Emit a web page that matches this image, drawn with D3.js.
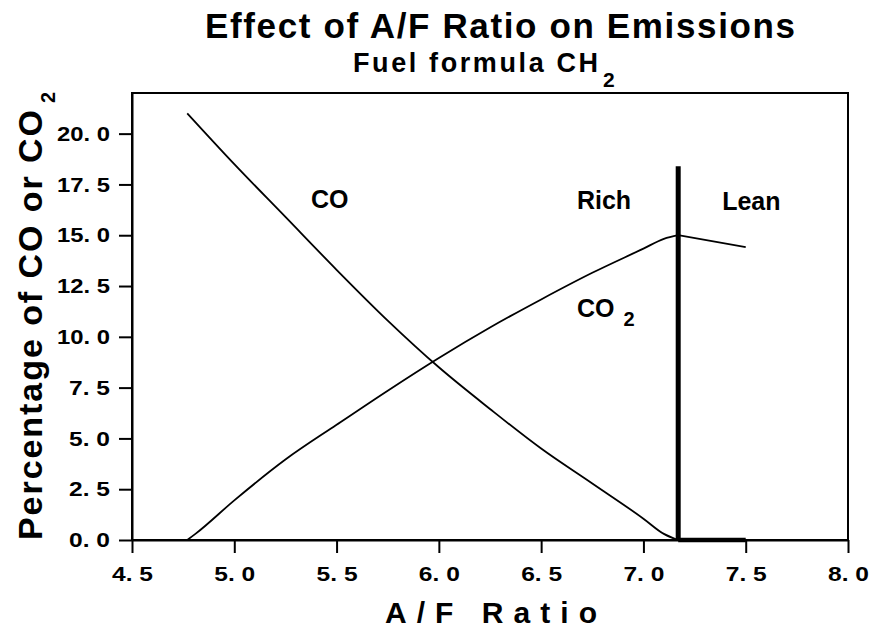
<!DOCTYPE html>
<html>
<head>
<meta charset="utf-8">
<script src="https://cdn.jsdelivr.net/npm/d3@7"></script>
<style>
  body { margin: 0; background: #fff; }
  svg { display: block; }
</style>
</head>
<body>
<svg id="chart" width="873" height="630"></svg>
<script>
// A/F ratio values
var afCO = [4.77, 5.0, 5.25, 5.5, 5.75, 6.0, 6.25, 6.5, 6.75, 7.0, 7.1, 7.17, 7.5];
var pctCO = [21.0, 18.5, 15.9, 13.3, 10.8, 8.5, 6.45, 4.5, 2.78, 1.05, 0.3, 0.0, 0.0];

var afCO2 = [4.77, 4.81, 5.0, 5.25, 5.5, 5.75, 6.0, 6.25, 6.5, 6.75, 7.0, 7.1, 7.17, 7.5];
var pctCO2 = [0.0, 0.3, 1.95, 3.96, 5.67, 7.35, 8.96, 10.46, 11.84, 13.15, 14.34, 14.82, 15.0, 14.42];

// stoichiometric divider
var stoichAF = 7.17;
var stoichTop = 18.4;

var xTicks = [4.5, 5.0, 5.5, 6.0, 6.5, 7.0, 7.5, 8.0];
var yTicks = [0, 2.5, 5, 7.5, 10, 12.5, 15, 17.5, 20];

// in-plot labels (data coords of baseline start)
var labels = [
  { text: "CO", x: 5.375, y: 16.36, sub: null },
  { text: "Rich", x: 6.675, y: 16.3, sub: null },
  { text: "Lean", x: 7.385, y: 16.25, sub: null },
  { text: "CO", x: 6.675, y: 10.97, sub: "2" }
];

var svg = d3.select('#chart');
svg.append('rect').attr('width', 873).attr('height', 630).attr('fill', '#fff');

var x = d3.scaleLinear().domain([4.5, 8.0]).range([132, 848]);
var y = d3.scaleLinear().domain([0, 22]).range([540, 93]);

// "20. 0" style labels, non-breaking space so it is kept
var fmt = function(d) { return d.toFixed(1).replace('.', '.\u00a0'); };
var textFont = "'Liberation Sans', Arial, sans-serif";

// frame
svg.append('rect')
  .attr('x', x(4.5)).attr('y', y(22))
  .attr('width', x(8.0) - x(4.5)).attr('height', y(0) - y(22))
  .attr('fill', 'none').attr('stroke', '#000').attr('stroke-width', 2);

var xAxis = svg.append('g')
  .attr('transform', 'translate(0,' + y(0) + ')')
  .call(d3.axisBottom(x).tickValues(xTicks).tickSize(13).tickSizeOuter(0).tickPadding(13).tickFormat(fmt));
var yAxis = svg.append('g')
  .attr('transform', 'translate(' + x(4.5) + ',0)')
  .call(d3.axisLeft(y).tickValues(yTicks).tickSize(13).tickSizeOuter(0).tickPadding(9).tickFormat(fmt));

[xAxis, yAxis].forEach(function(g) {
  g.attr('font-family', textFont).attr('font-size', 21).attr('font-weight', 'bold');
  g.select('.domain').attr('stroke', '#000').attr('stroke-width', 2);
  g.selectAll('.tick line').attr('stroke', '#000').attr('stroke-width', 2);
  g.selectAll('.tick text')
    .attr('fill', '#000')
    .attr('textLength', function(d) { return fmt(d).length === 5 ? 53 : 41; })
    .attr('lengthAdjust', 'spacingAndGlyphs');
});

// curves
var line = d3.line().x(function(d) { return x(d[0]); }).y(function(d) { return y(d[1]); });
var smooth = d3.line().curve(d3.curveMonotoneX).x(function(d) { return x(d[0]); }).y(function(d) { return y(d[1]); });
var coPts = d3.zip(afCO, pctCO);
var co2Pts = d3.zip(afCO2, pctCO2);

svg.append('path').datum(coPts.filter(function(d) { return d[0] <= stoichAF; })).attr('d', smooth)
  .attr('fill', 'none').attr('stroke', '#000').attr('stroke-width', 1.8);
svg.append('path').datum(coPts.filter(function(d) { return d[0] >= stoichAF; })).attr('d', line)
  .attr('fill', 'none').attr('stroke', '#000').attr('stroke-width', 4.5);
svg.append('path').datum(co2Pts.filter(function(d) { return d[0] <= stoichAF; })).attr('d', smooth)
  .attr('fill', 'none').attr('stroke', '#000').attr('stroke-width', 1.8);
svg.append('path').datum(co2Pts.filter(function(d) { return d[0] >= stoichAF; })).attr('d', line)
  .attr('fill', 'none').attr('stroke', '#000').attr('stroke-width', 1.8);

svg.append('line')
  .attr('x1', x(stoichAF)).attr('x2', x(stoichAF))
  .attr('y1', y(0)).attr('y2', y(stoichTop))
  .attr('stroke', '#000').attr('stroke-width', 5);

// labels
labels.forEach(function(l) {
  var t = svg.append('text')
    .attr('x', x(l.x)).attr('y', y(l.y))
    .attr('font-family', textFont).attr('font-weight', 'bold').attr('font-size', 25)
    .text(l.text);
  if (l.sub) {
    var w = t.node().getComputedTextLength();
    svg.append('text')
      .attr('x', x(l.x) + w + 9).attr('y', y(l.y) + 9)
      .attr('font-family', textFont).attr('font-weight', 'bold').attr('font-size', 20)
      .text(l.sub);
  }
});

// titles
svg.append('text')
  .attr('x', 205).attr('y', 38)
  .attr('textLength', 590).attr('lengthAdjust', 'spacing')
  .attr('font-family', textFont).attr('font-weight', 'bold').attr('font-size', 35)
  .text('Effect of A/F Ratio on Emissions');

svg.append('text')
  .attr('x', 353).attr('y', 72)
  .attr('textLength', 245).attr('lengthAdjust', 'spacing')
  .attr('font-family', textFont).attr('font-weight', 'bold').attr('font-size', 27)
  .text('Fuel formula CH');
svg.append('text')
  .attr('x', 603).attr('y', 87)
  .attr('font-family', textFont).attr('font-weight', 'bold').attr('font-size', 21)
  .text('2');

svg.append('text')
  .attr('x', 385).attr('y', 623)
  .attr('textLength', 212).attr('lengthAdjust', 'spacing')
  .attr('font-family', textFont).attr('font-weight', 'bold').attr('font-size', 30)
  .text('A/F Ratio');

var yt = svg.append('g').attr('transform', 'translate(42,540) rotate(-90)');
yt.append('text')
  .attr('x', 0).attr('y', 0)
  .attr('textLength', 430).attr('lengthAdjust', 'spacing')
  .attr('font-family', textFont).attr('font-weight', 'bold').attr('font-size', 34)
  .text('Percentage of CO or CO');
yt.append('text')
  .attr('x', 437).attr('y', 13)
  .attr('font-family', textFont).attr('font-weight', 'bold').attr('font-size', 20)
  .text('2');
</script>
</body>
</html>
